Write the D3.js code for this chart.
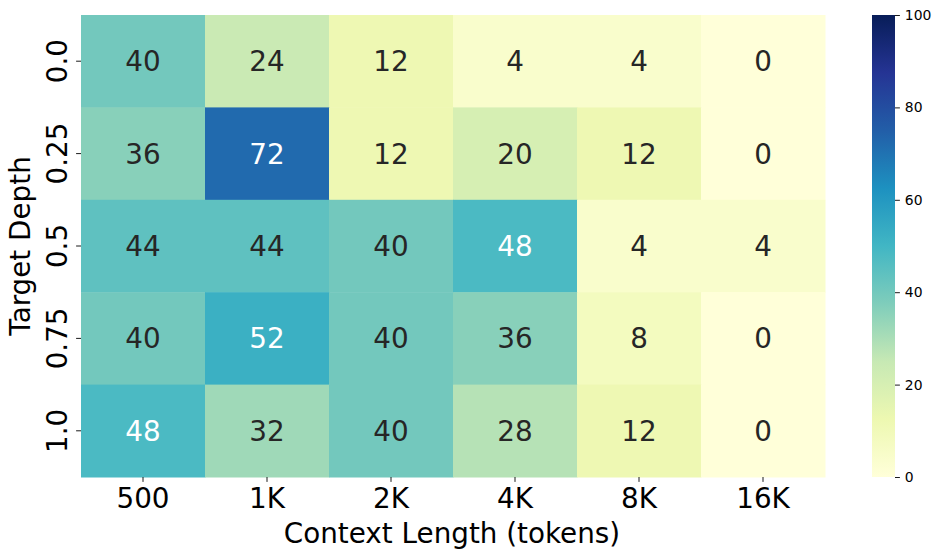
<!DOCTYPE html>
<html><head><meta charset="utf-8">
<script src="https://cdn.jsdelivr.net/npm/d3@7"></script>
<style>body{margin:0;background:#fff}svg{display:block;font-family:"DejaVu Sans",sans-serif}</style>
</head><body><svg id="c" width="940" height="558"></svg>
<script>
const contextLengths = ["500","1K","2K","4K","8K","16K"];
const depths = ["0.0","0.25","0.5","0.75","1.0"];
const row00 = [40,24,12,4,4,0];
const row025 = [36,72,12,20,12,0];
const row05 = [44,44,40,48,4,4];
const row075 = [40,52,40,36,8,0];
const row10 = [48,32,40,28,12,0];
const values = [row00,row025,row05,row075,row10];
const cbTicks = [0,20,40,60,80,100];
const ylgnbu = ["#ffffd9","#edf8b1","#c7e9b4","#7fcdbb","#41b6c4","#1d91c0","#225ea8","#253494","#081d58"];

const svg = d3.select("#c");
const L=81,R=825,T=15,B=477;
const x = d3.scaleBand().domain(contextLengths).range([L,R]).padding(0);
const y = d3.scaleBand().domain(depths).range([T,B]).padding(0);
const color = d3.scaleLinear().domain(d3.range(9).map(i=>i*12.5)).range(ylgnbu).interpolate(d3.interpolateRgb).clamp(true);

function lum(c){const o=d3.rgb(c);const f=v=>{v/=255;return v<=0.03928?v/12.92:Math.pow((v+0.055)/1.055,2.4)};return 0.2126*f(o.r)+0.7152*f(o.g)+0.0722*f(o.b);}

const cells=[];
values.forEach((row,i)=>row.forEach((v,j)=>cells.push({d:depths[i],c:contextLengths[j],v})));
svg.selectAll("rect.cell").data(cells).enter().append("rect")
 .attr("x",d=>x(d.c)).attr("y",d=>y(d.d)).attr("width",x.bandwidth()+0.5).attr("height",y.bandwidth()+0.5)
 .attr("fill",d=>color(d.v));
svg.selectAll("text.val").data(cells).enter().append("text")
 .attr("x",d=>x(d.c)+x.bandwidth()/2).attr("y",d=>y(d.d)+y.bandwidth()/2)
 .attr("dy","0.36em").attr("text-anchor","middle").attr("font-size","27.8px")
 .attr("fill",d=>lum(color(d.v))<0.408?"#ffffff":"#262626").text(d=>d.v);

// x axis
const xa = svg.append("g").attr("transform",`translate(0,${B})`).call(d3.axisBottom(x).tickSize(4.9).tickPadding(4.9));
xa.select(".domain").remove();
xa.selectAll("text").attr("font-size","27.8px").attr("font-family","DejaVu Sans").attr("fill","#000").attr("dy","0.75em");
xa.selectAll("line").attr("stroke","#000").attr("stroke-width",0.9);
// y axis
const ya = svg.append("g").attr("transform",`translate(${L},0)`).call(d3.axisLeft(y).tickSize(4.9).tickPadding(4.9));
ya.select(".domain").remove();
ya.selectAll("line").attr("stroke","#000").attr("stroke-width",0.9);
ya.selectAll("text").attr("font-size","27.8px").attr("font-family","DejaVu Sans").attr("fill","#000")
 .attr("x",null).attr("dy",null).attr("text-anchor","middle")
 .attr("transform","translate(-14,0) rotate(-90)");

svg.append("text").attr("x",(L+R)/2-1).attr("y",543).attr("text-anchor","middle").attr("font-size","27.8px").text("Context Length (tokens)");
svg.append("text").attr("transform",`translate(30,${(T+B)/2}) rotate(-90)`).attr("text-anchor","middle").attr("font-size","27.8px").text("Target Depth");

// colorbar
const cbX=872,cbW=23;
const defs=svg.append("defs");
const grad=defs.append("linearGradient").attr("id","cbg").attr("x1",0).attr("y1",1).attr("x2",0).attr("y2",0);
ylgnbu.forEach((c,i)=>grad.append("stop").attr("offset",i/8).attr("stop-color",c));
svg.append("rect").attr("x",cbX).attr("y",T).attr("width",cbW).attr("height",B-T).attr("fill","url(#cbg)");
const cy = d3.scaleLinear().domain([0,100]).range([B,T]);
const ca = svg.append("g").attr("transform",`translate(${cbX+cbW},0)`).call(d3.axisRight(cy).tickValues(cbTicks).tickSize(4.9).tickPadding(4.9));
ca.select(".domain").remove();
ca.selectAll("line").attr("stroke","#000").attr("stroke-width",0.9);
ca.selectAll("text").attr("font-size","13.9px").attr("font-family","DejaVu Sans").attr("fill","#000");
</script></body></html>
